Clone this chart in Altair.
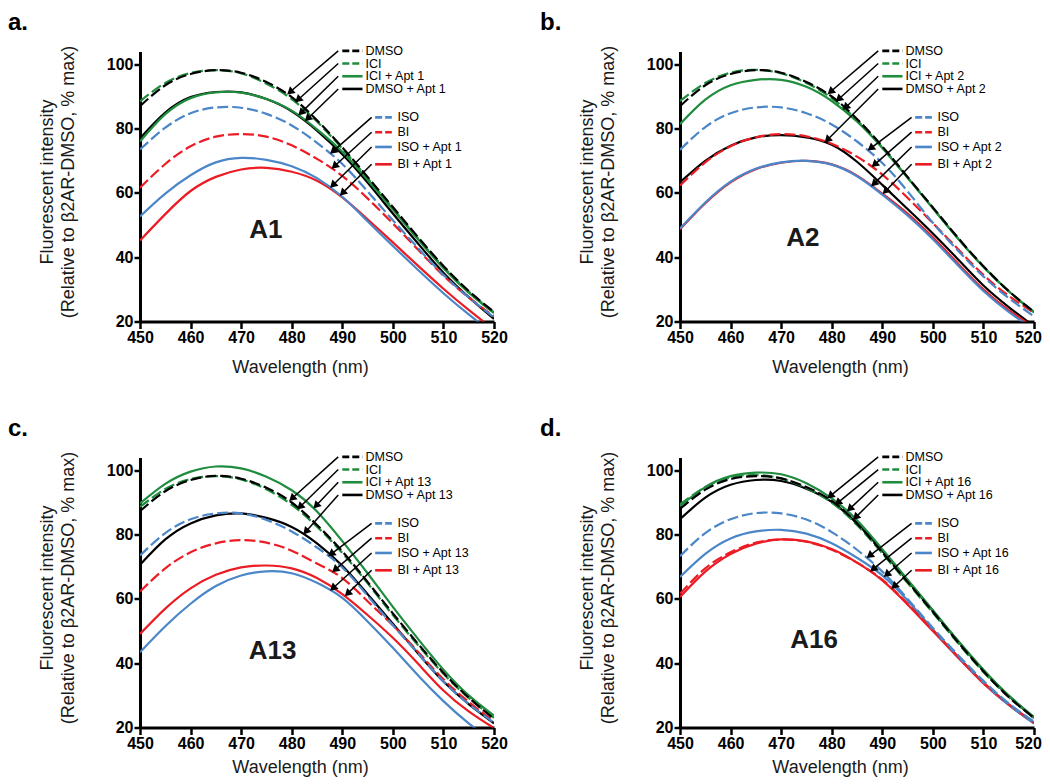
import math
import numpy as np
import pandas as pd
import altair as alt

FONT = "Liberation Sans"

# ---------------- data ----------------
wavelength = [450, 455, 460, 465, 470, 475, 480, 485, 490, 495, 500, 505, 510, 515, 520]

series_keys = ["DMSO", "ICI", "ICI+Apt", "DMSO+Apt", "ISO", "BI", "ISO+Apt", "BI+Apt"]
label_templates = ["DMSO", "ICI", "ICI + Apt {}", "DMSO + Apt {}", "ISO", "BI", "ISO + Apt {}", "BI + Apt {}"]

# panel a (A1)
a_dmso = [87.0, 93.5, 97.0, 98.2, 97.4, 94.5, 89.8, 82.6, 74.2, 65.0, 55.6, 46.2, 37.3, 29.5, 23.0]
a_ici = [88.5, 94.2, 97.3, 98.2, 97.2, 94.0, 89.2, 82.2, 73.8, 64.6, 55.2, 45.8, 37.0, 29.3, 22.8]
a_ici_apt = [76.0, 84.5, 89.5, 91.3, 91.2, 89.2, 85.6, 79.8, 72.8, 64.0, 54.8, 45.5, 36.6, 29.0, 22.6]
a_dmso_apt = [77.0, 85.0, 89.8, 91.4, 91.3, 89.2, 85.4, 79.4, 72.0, 63.2, 53.6, 44.2, 35.2, 27.6, 20.8]
a_iso = [73.5, 80.3, 84.8, 86.6, 86.5, 84.6, 81.0, 75.6, 69.0, 60.5, 51.5, 42.8, 34.5, 27.5, 21.3]
a_bi = [61.6, 69.0, 74.5, 77.5, 78.3, 77.5, 74.8, 70.6, 65.3, 58.3, 50.5, 42.3, 34.3, 27.5, 21.6]
a_iso_apt = [52.7, 59.8, 65.5, 69.5, 70.9, 70.3, 68.3, 64.6, 58.8, 51.2, 43.5, 36.0, 28.8, 22.2, 16.0]
a_bi_apt = [45.2, 53.4, 60.6, 65.0, 67.3, 67.8, 66.6, 63.8, 58.6, 51.8, 44.6, 37.3, 30.2, 23.6, 17.4]
a_tips = [479.1, 480.7, 481.3, 482.6, 487.6, 487.9, 487.6, 489.5]

# panel b (A2)
b_dmso = [87.0, 93.5, 97.0, 98.2, 97.4, 94.5, 90.0, 83.0, 74.5, 65.0, 55.5, 46.0, 37.2, 29.5, 23.0]
b_ici = [88.6, 94.2, 97.4, 98.3, 97.2, 94.2, 89.5, 82.6, 74.2, 64.8, 55.3, 45.8, 37.0, 29.4, 23.0]
b_ici_apt = [81.4, 89.0, 93.5, 95.2, 95.2, 93.0, 88.6, 82.2, 74.0, 64.7, 55.2, 45.7, 37.0, 29.4, 22.8]
b_dmso_apt = [63.3, 70.0, 74.7, 77.3, 78.0, 77.3, 75.0, 69.7, 62.5, 55.0, 47.4, 39.3, 31.2, 24.5, 18.5]
b_iso = [73.4, 80.5, 84.8, 86.6, 86.6, 84.8, 81.3, 76.0, 69.3, 60.5, 50.7, 42.0, 34.0, 27.3, 21.6]
b_bi = [62.3, 69.5, 74.5, 77.3, 78.3, 77.6, 75.3, 71.3, 65.7, 58.5, 50.6, 42.5, 34.5, 28.0, 22.7]
b_iso_apt = [48.9, 57.0, 63.5, 67.5, 69.5, 70.0, 68.8, 65.2, 59.5, 53.0, 45.6, 37.4, 29.5, 23.0, 17.5]
b_bi_apt = [48.7, 56.8, 63.3, 67.4, 69.4, 70.0, 68.9, 65.4, 59.8, 53.6, 46.2, 38.0, 30.0, 23.5, 18.3]
b_tips = [479.2, 480.8, 482.2, 478.6, 487.1, 487.9, 487.8, 490.1]

# panel c (A13)
c_dmso = [87.3, 93.5, 97.0, 98.3, 97.4, 94.6, 90.0, 83.0, 74.8, 65.3, 55.5, 46.0, 37.0, 29.3, 22.7]
c_ici = [88.6, 94.2, 97.3, 98.2, 97.2, 94.1, 89.3, 82.5, 74.3, 64.9, 55.0, 45.6, 36.7, 29.2, 23.0]
c_ici_apt = [89.7, 95.8, 99.6, 101.2, 100.6, 98.0, 93.8, 87.2, 78.0, 68.0, 57.5, 47.5, 38.0, 30.0, 23.7]
c_dmso_apt = [70.6, 78.5, 83.5, 86.0, 86.6, 85.2, 82.4, 77.3, 70.3, 61.5, 52.3, 43.0, 34.3, 27.3, 21.3]
c_iso = [73.5, 80.5, 84.8, 86.6, 86.6, 84.6, 81.0, 76.0, 69.8, 61.0, 51.8, 43.0, 34.3, 27.3, 21.5]
c_bi = [62.3, 69.5, 74.5, 77.3, 78.3, 77.5, 75.0, 71.0, 66.5, 59.3, 51.8, 43.5, 35.0, 28.0, 21.8]
c_iso_apt = [43.4, 51.5, 58.5, 64.0, 67.3, 68.6, 68.0, 65.0, 60.3, 53.0, 44.8, 36.2, 28.2, 21.3, 15.5]
c_bi_apt = [49.1, 57.0, 63.3, 67.5, 69.8, 70.4, 69.5, 66.5, 61.5, 55.0, 47.9, 39.8, 31.5, 25.0, 19.8]
c_tips = [479.5, 481.1, 484.3, 482.3, 487.2, 488.0, 487.6, 490.5]

# panel d (A16)
d_dmso = [88.0, 94.0, 97.3, 98.2, 97.5, 94.8, 90.5, 83.5, 74.5, 65.3, 56.0, 46.5, 37.5, 29.5, 23.0]
d_ici = [89.4, 94.8, 97.8, 98.5, 97.5, 94.5, 90.0, 83.0, 74.2, 65.0, 55.7, 46.2, 37.3, 29.5, 23.0]
d_ici_apt = [88.9, 94.8, 98.2, 99.3, 98.8, 96.0, 91.3, 84.5, 75.5, 66.0, 56.5, 47.0, 38.0, 30.0, 23.3]
d_dmso_apt = [84.8, 91.5, 95.5, 97.0, 96.7, 94.3, 90.2, 83.5, 75.0, 65.7, 56.3, 46.8, 37.8, 29.8, 23.0]
d_iso = [73.3, 80.5, 84.8, 86.7, 86.6, 84.7, 80.8, 75.3, 68.5, 60.0, 51.0, 42.5, 34.5, 27.5, 21.8]
d_bi = [61.6, 69.5, 74.5, 77.5, 78.5, 77.8, 75.3, 71.3, 66.0, 58.5, 50.3, 42.0, 34.0, 27.3, 21.5]
d_iso_apt = [66.8, 74.0, 78.8, 81.0, 81.5, 80.3, 77.3, 72.8, 67.3, 59.5, 50.5, 42.0, 34.0, 27.0, 21.3]
d_bi_apt = [60.6, 68.5, 74.0, 77.2, 78.5, 77.9, 75.5, 71.3, 65.8, 58.3, 50.0, 41.7, 33.7, 27.0, 21.3]
d_tips = [479.1, 480.6, 483.0, 484.2, 486.9, 487.6, 490.3, 491.8]

# ---------------- layout / style ----------------
W, H = 354, 270
XD, YD = [450, 520], [20, 104]
PX_NM = W / (XD[1] - XD[0])
PX_V = H / (YD[1] - YD[0])

GREEN, BLUE, RED, BLACK = "#1f8c3e", "#4a86c8", "#ec1c24", "#000000"
series_color = {"DMSO": BLACK, "ICI": GREEN, "ICI+Apt": GREEN, "DMSO+Apt": BLACK,
                "ISO": BLUE, "BI": RED, "ISO+Apt": BLUE, "BI+Apt": RED}
dashed_keys = ["BI", "ISO", "ICI", "DMSO"]          # draw order (dashed on top)
solid_keys = ["DMSO+Apt", "ICI+Apt", "BI+Apt", "ISO+Apt"]

legend_row_val = [104.2, 100.25, 96.3, 92.35, 83.5, 78.9, 74.3, 68.9]
swatch_x1 = [490.0] * 4 + [496.5] * 4
swatch_x2 = [494.0] * 4 + [499.8] * 4
text_x = [494.6] * 4 + [500.9] * 4
arrow_x0 = [489.2] * 4 + [495.8] * 4
HEAD_SIZE = 75
HEAD_BACK = 3.7

xs = alt.Scale(domain=XD, nice=False, zero=False)
ys = alt.Scale(domain=YD, nice=False, zero=False)


def x_axis(right_col, title_pad):
    kw = dict(values=list(range(450, 521, 10)), title="Wavelength (nm)", format="d",
              tickSize=7, labelPadding=1, titlePadding=title_pad, titleX=160, grid=False, labelFlush=False)
    if right_col:
        kw["labelOffset"] = alt.condition("datum.value == 520", alt.value(-6), alt.value(0))
    return alt.Axis(**kw)


y_axis = alt.Axis(values=[20, 40, 60, 80, 100],
                  title=["Fluorescent intensity", "(Relative to β2AR-DMSO, % max)"],
                  tickSize=6, labelPadding=1, titleX=-84, titleY=130, titleLineHeight=21,
                  grid=False, labelFlush=False)

color_enc = alt.Color("series:N", scale=alt.Scale(domain=list(series_color.keys()),
                                                  range=list(series_color.values())), legend=None)


def make_panel(values, apt, tips, big_label, big_pos, letter, letter_x, right_col, title_pad):
    xa = x_axis(right_col, title_pad)

    def X(f="nm"):
        return alt.X(f"{f}:Q", scale=xs, axis=xa)

    def Y(f="val"):
        return alt.Y(f"{f}:Q", scale=ys, axis=y_axis)

    sdict = dict(zip(series_keys, values))
    rows = []
    for k in solid_keys + dashed_keys:
        for w, v in zip(wavelength, sdict[k]):
            rows.append({"series": k, "nm": w, "val": v, "dash": k in dashed_keys})
    df = pd.DataFrame(rows)
    solid = alt.Chart(df[~df["dash"]]).mark_line(strokeWidth=2.2, clip=True, interpolate="natural").encode(
        x=X(), y=Y(), color=color_enc)
    dashed = alt.Chart(df[df["dash"]]).mark_line(strokeWidth=2.2, clip=True, interpolate="natural",
                                                 strokeDash=[11, 4]).encode(x=X(), y=Y(), color=color_enc)

    # legend entries + arrows
    leg = []
    arr = []
    for i, k in enumerate(series_keys):
        leg.append({"series": k, "nm": swatch_x1[i], "nm2": swatch_x2[i], "val": legend_row_val[i],
                    "val2": legend_row_val[i], "tx": text_x[i],
                    "label": label_templates[i].format(apt), "dash": k in dashed_keys})
        t_nm = tips[i]
        t_val = float(np.interp(t_nm, wavelength, sdict[k]))
        s_nm, s_val = arrow_x0[i], legend_row_val[i]
        dx = (t_nm - s_nm) * PX_NM
        dy = -(t_val - s_val) * PX_V
        L = math.hypot(dx, dy)
        ux, uy = dx / L, dy / L
        ang = math.degrees(math.atan2(ux, -uy)) % 360
        c_nm = t_nm - HEAD_BACK * ux / PX_NM
        c_val = t_val + HEAD_BACK * uy / PX_V
        arr.append({"nm": s_nm, "val": s_val, "nm2": c_nm, "val2": c_val, "hn": c_nm, "hv": c_val, "ang": ang})
    ldf = pd.DataFrame(leg)
    adf = pd.DataFrame(arr)

    sw_solid = alt.Chart(ldf[~ldf["dash"]]).mark_rule(strokeWidth=2.6).encode(
        x=X(), x2="nm2:Q", y=Y(), y2="val2:Q", color=color_enc)
    sw_dash = alt.Chart(ldf[ldf["dash"]]).mark_rule(strokeWidth=2.6, strokeDash=[7, 3]).encode(
        x=X(), x2="nm2:Q", y=Y(), y2="val2:Q", color=color_enc)
    labels = alt.Chart(ldf).mark_text(align="left", baseline="middle", fontSize=12.5, font=FONT,
                                      color="black").encode(x=X("tx"), y=Y(), text="label:N")
    shafts = alt.Chart(adf).mark_rule(strokeWidth=1.5, color="black").encode(
        x=X(), x2="nm2:Q", y=Y(), y2="val2:Q")
    heads = alt.Chart(adf).mark_point(shape="triangle-up", filled=True, size=HEAD_SIZE, color="black",
                                      opacity=1).encode(x=X("hn"), y=Y("hv"),
                                                        angle=alt.Angle("ang:Q", scale=None))
    big = alt.Chart(pd.DataFrame({"nm": [big_pos[0]], "val": [big_pos[1]], "t": [big_label]})).mark_text(
        fontSize=26, fontWeight="bold", font=FONT, align="center", baseline="middle", color="#1a1a1a").encode(
        x=X(), y=Y(), text="t:N")
    let = alt.Chart(pd.DataFrame({"t": [letter]})).mark_text(
        fontSize=24, fontWeight="bold", font=FONT, align="left", baseline="alphabetic", color="black").encode(
        x=alt.value(letter_x), y=alt.value(-21.3), text="t:N")
    return alt.layer(solid, dashed, sw_solid, sw_dash, labels, shafts, heads, big, let).properties(
        width=W, height=H)


pa = make_panel([a_dmso, a_ici, a_ici_apt, a_dmso_apt, a_iso, a_bi, a_iso_apt, a_bi_apt], "1", a_tips,
                "A1", (474.9, 48.5), "a.", -132, False, 13)
pb = make_panel([b_dmso, b_ici, b_ici_apt, b_dmso_apt, b_iso, b_bi, b_iso_apt, b_bi_apt], "2", b_tips,
                "A2", (474.3, 46.0), "b.", -140, True, 13)
pc = make_panel([c_dmso, c_ici, c_ici_apt, c_dmso_apt, c_iso, c_bi, c_iso_apt, c_bi_apt], "13", c_tips,
                "A13", (476.2, 43.9), "c.", -132, False, 7)
pd_ = make_panel([d_dmso, d_ici, d_ici_apt, d_dmso_apt, d_iso, d_bi, d_iso_apt, d_bi_apt], "16", d_tips,
                 "A16", (476.5, 47.3), "d.", -140, True, 7)

chart = alt.concat(pa, pb, pc, pd_, columns=2, spacing={"row": 136, "column": 186}, bounds="flush").properties(
    padding={"top": 2.5, "left": 0, "right": 0, "bottom": 0}
).configure_view(stroke=None).configure_axis(
    domainColor="black", domainWidth=3, tickColor="black", tickWidth=2.5,
    labelFont=FONT, labelFontWeight="bold", labelFontSize=16, labelColor="black",
    titleFont=FONT, titleFontWeight="normal", titleFontSize=18, titleColor="#1a1a1a",
)

chart.save("out.html", embed_options={"renderer": "svg", "actions": False})
